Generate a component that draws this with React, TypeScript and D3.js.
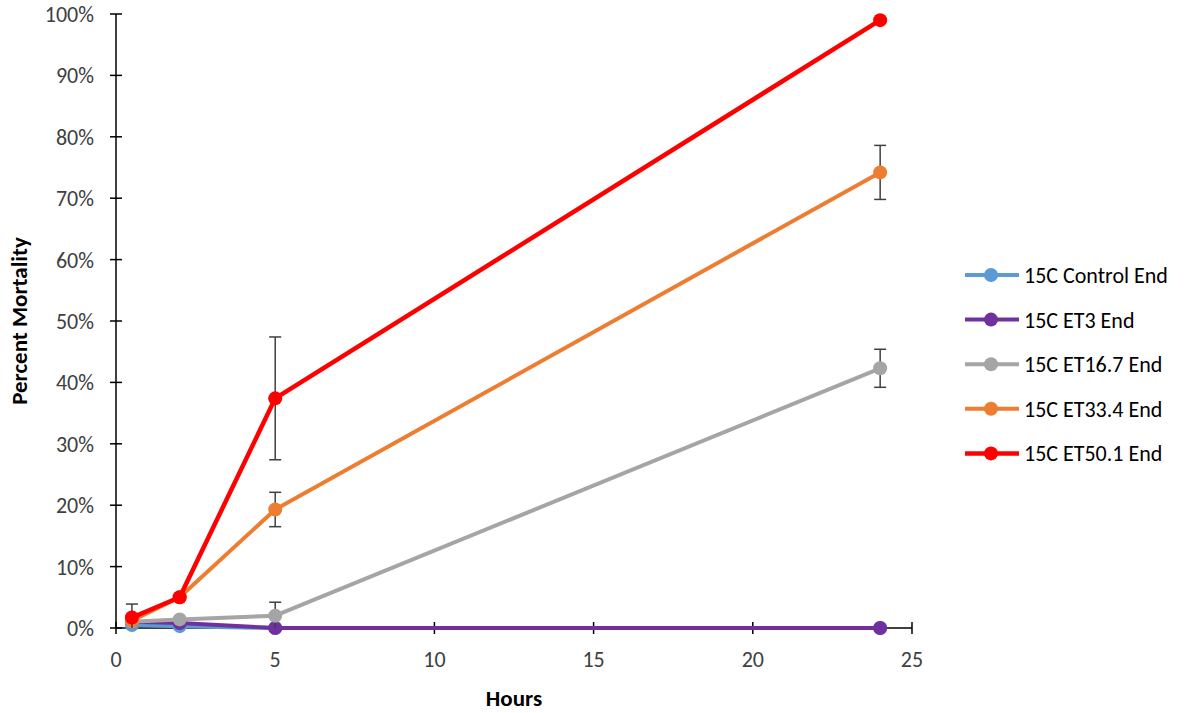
import React from "react";
import * as d3 from "d3";

const hours = [0.5, 2, 5, 24];
const seriesNames = ["15C Control End", "15C ET3 End", "15C ET16.7 End", "15C ET33.4 End", "15C ET50.1 End"];
const seriesColors = ["#5B9BD5", "#7030A0", "#A5A5A5", "#ED7D31", "#FF0000"];
const controlVals = [0.5, 0.3, 0, 0];
const et3Vals = [1.0, 0.8, 0, 0];
const et167Vals = [1.0, 1.4, 2.0, 42.3];
const et334Vals = [1.2, 5.0, 19.3, 74.2];
const et501Vals = [1.7, 5.0, 37.4, 99.0];
const controlErr = [0, 0, 0, 0];
const et3Err = [0, 0, 0, 0];
const et167Err = [0, 0, 2.2, 3.1];
const et334Err = [0, 0, 2.8, 4.4];
const et501Err = [2.2, 0, 10, 0];
const xTicks = [0, 5, 10, 15, 20, 25];
const yTicks = [0, 10, 20, 30, 40, 50, 60, 70, 80, 90, 100];

export default function App() {
  const W = 1188, H = 713;
  const x = d3.scaleLinear().domain([0, 25]).range([116, 912]);
  const y = d3.scaleLinear().domain([0, 100]).range([628, 14]);
  const vals = [controlVals, et3Vals, et167Vals, et334Vals, et501Vals];
  const errs = [controlErr, et3Err, et167Err, et334Err, et501Err];
  const line = d3.line<number>().x((_, i) => x(hours[i])).y((v) => y(v));
  const font = "Carlito, Lato, 'Liberation Sans', sans-serif";
  return (
    <svg width={W} height={H} style={{ position: "absolute", left: 0, top: 0, background: "#fff" }}>
      {/* axes */}
      <line x1={x(0)} x2={x(0)} y1={y(100)} y2={y(0)} stroke="#000" strokeWidth={1.5} />
      <line x1={x(0)} x2={x(25)} y1={y(0)} y2={y(0)} stroke="#000" strokeWidth={1.5} />
      {yTicks.map((t) => (
        <g key={"y" + t}>
          <line x1={x(0) - 6} x2={x(0) + 6} y1={y(t)} y2={y(t)} stroke="#000" strokeWidth={1.5} />
          <text x={x(0) - 22} y={y(t)} dy="0.36em" textAnchor="end" fontFamily={font} fontSize={22} fill="#404040">{t + "%"}</text>
        </g>
      ))}
      {xTicks.map((t) => (
        <g key={"x" + t}>
          <line x1={x(t)} x2={x(t)} y1={y(0) - 6} y2={y(0) + 6} stroke="#000" strokeWidth={1.5} />
          <text x={x(t)} y={y(0) + 39} textAnchor="middle" fontFamily={font} fontSize={22} fill="#404040">{t}</text>
        </g>
      ))}
      <text x={(x(0) + x(25)) / 2} y={706} textAnchor="middle" fontFamily={font} fontSize={23} fontWeight="bold" fill="#000">Hours</text>
      <text transform={`translate(27, ${y(50)}) rotate(-90)`} textAnchor="middle" fontFamily={font} fontSize={23} fontWeight="bold" fill="#000">Percent Mortality</text>
      {/* series */}
      {vals.map((v, si) => (
        <g key={"s" + si}>
          <path d={line(v) || ""} fill="none" stroke={seriesColors[si]} strokeWidth={si === 4 ? 4.5 : 4} strokeLinejoin="round" />
          {v.map((val, i) =>
            errs[si][i] > 0 ? (
              <g key={"e" + i} stroke="#404040" strokeWidth={1.5}>
                <line x1={x(hours[i])} x2={x(hours[i])} y1={y(val + errs[si][i])} y2={y(Math.max(0, val - errs[si][i]))} />
                <line x1={x(hours[i]) - 6} x2={x(hours[i]) + 6} y1={y(val + errs[si][i])} y2={y(val + errs[si][i])} />
                {val - errs[si][i] > 0 && (
                  <line x1={x(hours[i]) - 6} x2={x(hours[i]) + 6} y1={y(val - errs[si][i])} y2={y(val - errs[si][i])} />
                )}
              </g>
            ) : null
          )}
          {v.map((val, i) => (
            <circle key={"c" + i} cx={x(hours[i])} cy={y(val)} r={7} fill={seriesColors[si]} />
          ))}
        </g>
      ))}
      {/* legend */}
      {seriesNames.map((n, i) => {
        const ly = 275 + i * 44.6;
        return (
          <g key={"l" + i}>
            <line x1={965} x2={1019} y1={ly} y2={ly} stroke={seriesColors[i]} strokeWidth={i === 4 ? 4.5 : 4} />
            <circle cx={991} cy={ly} r={7} fill={seriesColors[i]} />
            <text x={1024} y={ly} dy="0.36em" fontFamily={font} fontSize={22} fill="#000">{n}</text>
          </g>
        );
      })}
    </svg>
  );
}
